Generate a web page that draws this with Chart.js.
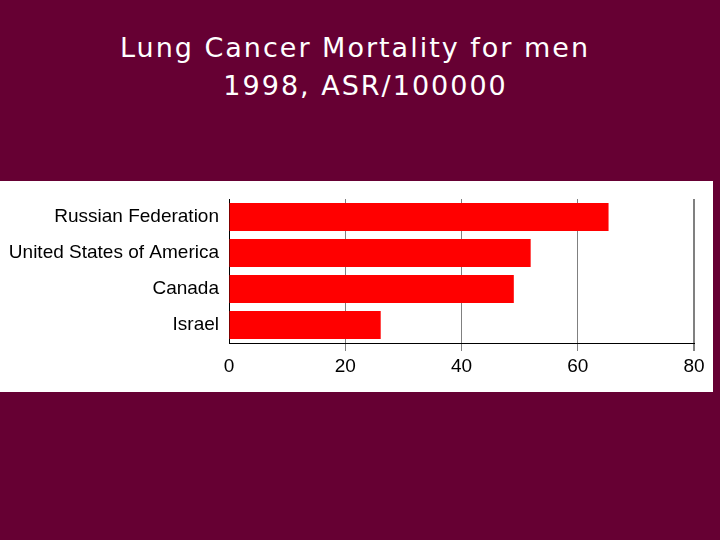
<!DOCTYPE html>
<html>
<head>
<meta charset="utf-8">
<script src="https://cdn.jsdelivr.net/npm/chart.js@4"></script>
<style>
  html, body { margin: 0; padding: 0; }
  body { width: 720px; height: 540px; background: #660033; position: relative; overflow: hidden; }
  .title {
    position: absolute; left: 0; top: 29px; width: 710px;
    text-align: center; color: #fff;
    font-family: "DejaVu Sans", sans-serif; font-size: 27px; line-height: 38px;
    letter-spacing: 2px;
  }
  .panel { position: absolute; left: 0; top: 181px; width: 713px; height: 211px; background: #fff; }
  #chart { display: block; }
</style>
</head>
<body>
<div class="title">Lung Cancer Mortality for men<br>&nbsp;&nbsp;1998, ASR/100000</div>
<div class="panel"><canvas id="chart" width="713" height="211"></canvas></div>
<script>
const countries = ['Russian Federation', 'United States of America', 'Canada', 'Israel'];
const mortality = [65.3, 51.9, 49.0, 26.1];
const xTicks = [0, 20, 40, 60, 80];

const labelFont = { family: '"Liberation Sans", Arial, sans-serif', size: 19 };

new Chart(document.getElementById('chart'), {
  type: 'bar',
  data: {
    labels: countries,
    datasets: [
      {
        data: mortality,
        backgroundColor: '#ff0000',
        borderWidth: 0,
        barPercentage: 0.78,
        categoryPercentage: 1,
      },
    ],
  },
  options: {
    indexAxis: 'y',
    responsive: false,
    animation: false,
    layout: { padding: { top: 18, right: 19, bottom: 0, left: 0 } },
    scales: {
      x: {
        min: 0,
        max: 80,
        afterBuildTicks: (axis) => {
          axis.ticks = xTicks.map((v) => ({ value: v }));
        },
        afterFit: (axis) => {
          axis.height = 49;
        },
        border: { display: true, color: '#000', width: 1 },
        grid: {
          color: (ctx) => (ctx.index === 0 ? 'rgba(0,0,0,0)' : '#808080'),
          lineWidth: (ctx) => (ctx.index === 4 ? 2 : 1),
          tickLength: 8,
        },
        ticks: { color: '#000', font: labelFont, padding: 4, maxRotation: 0 },
      },
      y: {
        afterFit: (axis) => {
          axis.width = 229;
          axis.paddingTop = 0;
          axis.paddingBottom = 0;
        },
        border: { display: true, color: '#000', width: 1 },
        grid: { display: false, drawTicks: false },
        ticks: { color: '#000', font: labelFont, padding: 10 },
      },
    },
    plugins: {
      legend: { display: false },
      tooltip: { enabled: false },
    },
  },
});
</script>
</body>
</html>
